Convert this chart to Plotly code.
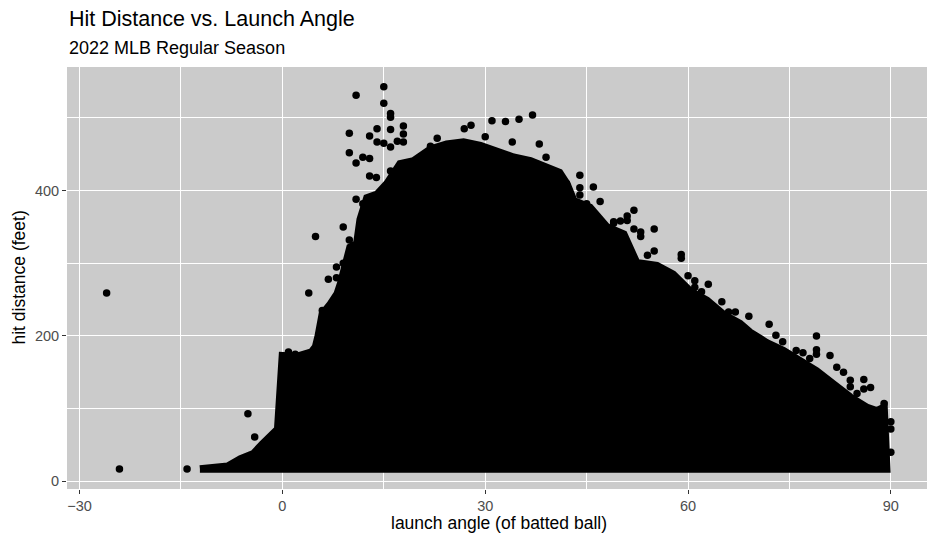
import plotly.graph_objects as go

# ---- data ----
# upper envelope of the dense mass of batted balls (launch angle, hit distance)
upper_angle = [-12.2, -10.2, -8.1, -6.2, -4.3, -3.0, -1.8, -0.7, 0.0, 2.2, 4.3, 4.9, 5.3, 5.9,
               7.1, 8.1, 8.6, 9.3, 10.0, 11.0, 11.5, 12.5, 14.0, 15.5, 17.4, 19.4, 21.9, 24.3,
               26.8, 29.3, 31.7, 34.2, 36.7, 39.1, 41.0, 42.1, 43.1, 45.5, 48.0, 50.5, 52.4,
               55.4, 57.8, 60.3, 62.8, 65.2, 67.7, 69.2, 71.6, 74.1, 76.6, 79.0, 81.5, 84.0,
               86.4, 87.9, 89.0, 89.4]
upper_dist = [17, 18, 21, 31, 38, 51, 61, 72, 173, 172, 178, 185, 200, 230,
              244, 258, 272, 295, 322, 327, 360, 390, 395, 410, 437, 441, 457, 464,
              467, 462, 453, 446, 441, 432, 425, 409, 386, 377, 350, 340, 301,
              297, 285, 262, 249, 230, 217, 205, 191, 180, 166, 152, 134, 116,
              102, 97, 102, 20]
# lower envelope (bottom row of short hits)
lower_angle = [89.4, -12.2]
lower_dist = [17, 17]

# isolated batted balls outside (or on the rim of) the dense mass
out_angle = [-26.0, -24.1, -14.1, -5.1, -4.1, 3.9, 4.9, 9.0, 9.9,
             15.0, 10.9, 15.0, 16.0, 16.0, 9.9, 14.0, 16.0, 17.9, 17.9, 17.9, 12.9, 14.0,
             15.0, 16.0, 17.0, 9.9, 10.9, 11.9, 12.9, 16.0, 12.9, 13.9, 10.9, 11.9,
             26.9, 27.9, 31.0, 33.0, 35.0, 37.0, 34.0, 38.0, 39.0, 21.9, 22.9, 30.0,
             44.0, 46.0, 44.0, 44.0, 47.0, 49.0, 52.0, 51.0, 51.0, 50.0, 55.0, 52.0,
             53.0, 53.0, 55.0, 59.0, 59.0, 54.0, 63.0, 65.0, 67.0, 60.0, 61.0, 61.0,
             62.0, 69.0, 72.0, 73.0, 79.0, 79.0, 79.0, 81.0, 82.0, 83.0, 86.0, 87.0,
             86.0, 89.0, 90.0, 90.0, 90.0,
             6.8, 8.0, 8.0, 9.0, 5.9, 5.9, 0.9, 1.9, 3.9,
             40.0, 42.0, 45.0, 49.0, 66.0, 74.0, 76.0, 77.0, 78.0, 84.0, 84.0, 85.0]
out_dist = [259, 17, 17, 93, 61, 259, 337, 350, 332,
            543, 531, 520, 506, 501, 479, 485, 484, 489, 478, 467, 475, 467,
            465, 460, 468, 452, 438, 446, 444, 427, 420, 418, 388, 382,
            485, 490, 496, 495, 498, 504, 467, 464, 446, 461, 472, 474,
            421, 405, 404, 394, 385, 357, 373, 365, 359, 358, 347, 347,
            343, 337, 317, 312, 307, 311, 271, 247, 233, 283, 276, 267,
            261, 227, 216, 201, 200, 181, 175, 173, 157, 150, 140, 129,
            127, 107, 82, 72, 40,
            278, 280, 295, 300, 235, 224, 178, 175, 162,
            426, 410, 382, 355, 233, 192, 180, 177, 169, 139, 130, 121]

x_ticks = [-30, 0, 30, 60, 90]
x_tick_text = ["\u221230", "0", "30", "60", "90"]
y_ticks = [0, 200, 400]

# ---- figure ----
W, H = 927, 537
L, R, T, B = 67, 0, 67, 48

fig = go.Figure()

poly_x = upper_angle + lower_angle
poly_y = upper_dist + lower_dist
fig.add_trace(go.Scatter(
    x=poly_x + [poly_x[0]], y=poly_y + [poly_y[0]],
    mode="lines", fill="toself", fillcolor="black",
    line=dict(color="black", width=7.4),
    hoverinfo="skip", showlegend=False))

fig.add_trace(go.Scatter(
    x=out_angle, y=out_dist, mode="markers",
    marker=dict(color="black", size=7.5, line=dict(width=0)),
    showlegend=False))

font = "Liberation Sans, Arial"
grid_major = dict(showgrid=True, gridcolor="white", gridwidth=1.4)
fig.update_xaxes(
    range=[-31.86, 95.35], tickmode="array", tickvals=x_ticks, ticktext=x_tick_text,
    ticks="outside", ticklen=4, tickwidth=1.1, tickcolor="#333333",
    tickfont=dict(family=font, size=14.5, color="#4D4D4D"),
    zeroline=False, showline=False,
    minor=dict(tickvals=[-15, 15, 45, 75], showgrid=True, gridcolor="white", gridwidth=0.7, ticks=""),
    **grid_major)
fig.update_yaxes(
    range=[-10.5, 570], tickmode="array", tickvals=y_ticks,
    ticks="outside", ticklen=4, tickwidth=1.1, tickcolor="#333333",
    tickfont=dict(family=font, size=14.5, color="#4D4D4D"),
    zeroline=False, showline=False,
    minor=dict(tickvals=[100, 300, 500], showgrid=True, gridcolor="white", gridwidth=0.7, ticks=""),
    **grid_major)

ph = H - T - B
pw = W - L - R


def py(p):
    return (H - B - p) / ph


def px(p):
    return (p - L) / pw


fig.add_annotation(text="Hit Distance vs. Launch Angle", xref="paper", yref="paper",
                   x=0, y=py(19.5), xanchor="left", yanchor="middle", showarrow=False,
                   font=dict(family=font, size=21.5, color="black"))
fig.add_annotation(text="2022 MLB Regular Season", xref="paper", yref="paper",
                   x=0, y=py(48), xanchor="left", yanchor="middle", showarrow=False,
                   font=dict(family=font, size=18, color="black"))
fig.add_annotation(text="launch angle (of batted ball)", xref="paper", yref="paper",
                   x=px(498.5), y=py(523), xanchor="center", yanchor="middle", showarrow=False,
                   font=dict(family=font, size=17.5, color="black"))
fig.add_annotation(text="hit distance (feet)", xref="paper", yref="paper",
                   x=px(18.5), y=py(278), xanchor="center", yanchor="middle", showarrow=False,
                   textangle=-90, font=dict(family=font, size=17.5, color="black"))

fig.update_layout(
    width=W, height=H, autosize=False,
    margin=dict(l=L, r=R, t=T, b=B, pad=0),
    paper_bgcolor="white", plot_bgcolor="#CBCBCB",
    showlegend=False,
)

fig.write_html("out.html")
